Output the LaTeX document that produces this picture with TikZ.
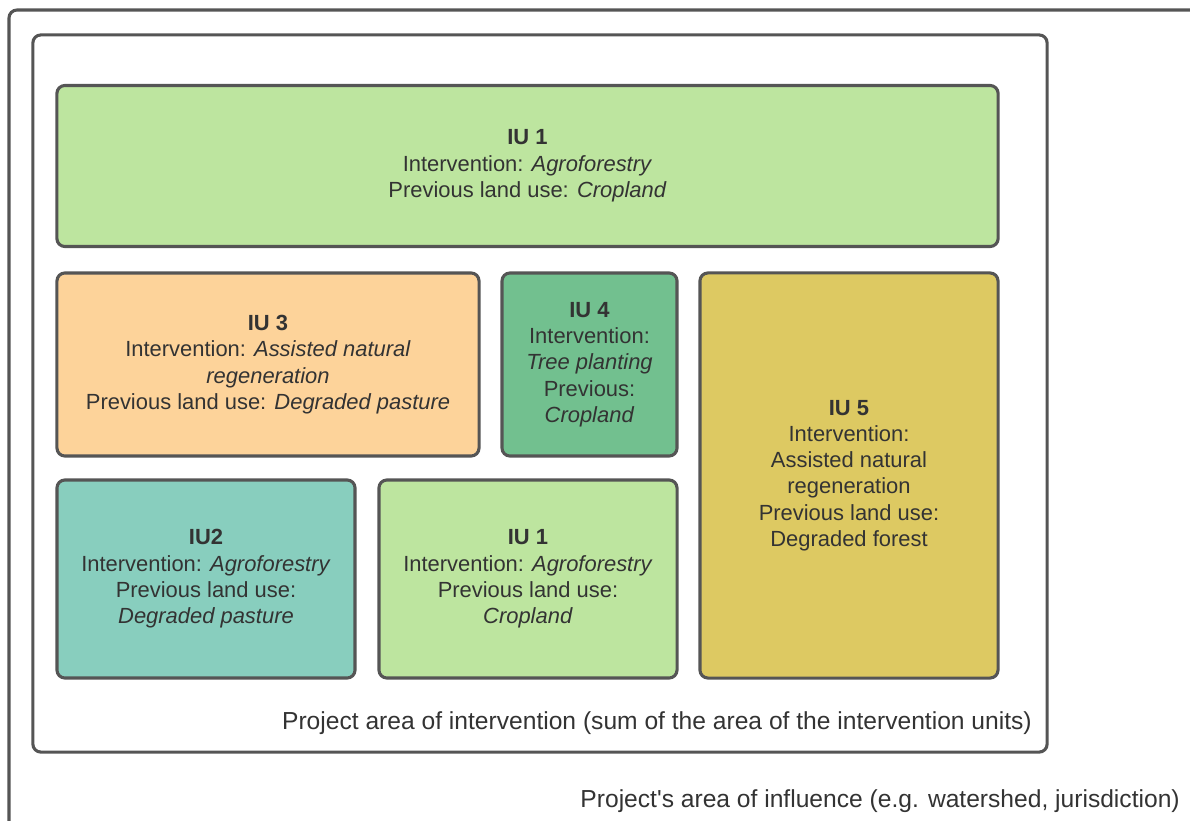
\documentclass[tikz,border=0pt]{standalone}
\usepackage{fontspec}
\setmainfont{Liberation Sans}
\newfontfamily\plainsans{Liberation Sans}

\definecolor{framegray}{HTML}{555555}
\definecolor{textgray}{HTML}{333333}
\definecolor{croplandgreen}{HTML}{BDE59F}
\definecolor{pastureorange}{HTML}{FDD39A}
\definecolor{plantinggreen}{HTML}{72C08F}
\definecolor{forestyellow}{HTML}{DDC962}
\definecolor{agroteal}{HTML}{88CEBE}

\begin{document}
\begin{tikzpicture}[x=0.025cm, y=-0.025cm,
    every node/.style={text=textgray, font=\fontsize{15.6}{18.7}\selectfont},
    iubox/.style={draw=framegray, line width=2.2pt, rounded corners=0.2cm, align=center, inner sep=0pt},
    arealabel/.style={anchor=base east, inner sep=0pt, font=\plainsans\fontsize{17.5}{21}\selectfont}]
                \useasboundingbox (0,0) rectangle (1190,821);
                \clip (0,0) rectangle (1190,821);
                % area of influence, runs off the page
                \draw[framegray, line width=2.2pt, rounded corners=0.2cm] (9,10) rectangle (1300,900);
                \node[iubox, minimum width=25.35cm, minimum height=17.925cm] (projectarea) at (540,393.5) {};
                \node[iubox, fill=croplandgreen, minimum width=23.525cm, minimum height=4.025cm] (iu1top) at (527.5,166) {\textbf{IU 1}\\Intervention: \textit{Agroforestry}\\Previous land use: \textit{Cropland}};
                \node[iubox, fill=pastureorange, minimum width=10.55cm, minimum height=4.575cm] (iu3) at (268,364.5) {\textbf{IU 3}\\Intervention: \textit{Assisted natural}\\\textit{regeneration}\\Previous land use: \textit{Degraded pasture}};
                \node[iubox, fill=plantinggreen, minimum width=4.375cm, minimum height=4.575cm] (iu4) at (589.5,364.5) {\textbf{IU 4}\\Intervention:\\\textit{Tree planting}\\Previous:\\\textit{Cropland}};
                \node[iubox, fill=forestyellow, minimum width=7.45cm, minimum height=10.125cm] (iu5) at (849,475.5) {\textbf{IU 5}\\Intervention:\\Assisted natural\\regeneration\\Previous land use:\\Degraded forest};
                \node[iubox, fill=agroteal, minimum width=7.45cm, minimum height=4.95cm] (iu2) at (206,579) {\textbf{IU2}\\Intervention: \textit{Agroforestry}\\Previous land use:\\\textit{Degraded pasture}};
                \node[iubox, fill=croplandgreen, minimum width=7.45cm, minimum height=4.95cm] (iu1bottom) at (528,579) {\textbf{IU 1}\\Intervention: \textit{Agroforestry}\\Previous land use:\\\textit{Cropland}};
                \node[arealabel] (interventionlabel) at (1032,729) {Project area of intervention (sum of the area of the intervention units)};
                \node[arealabel] (influencelabel) at (1180,807) {Project's area of influence (e.g. watershed, jurisdiction)};
            \end{tikzpicture}
\end{document}
